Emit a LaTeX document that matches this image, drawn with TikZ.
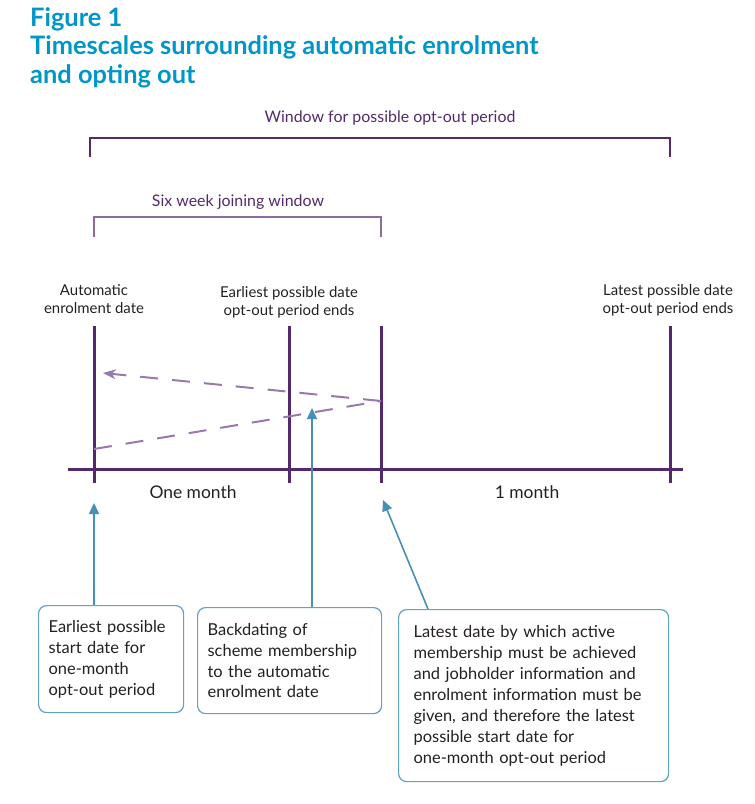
\documentclass[tikz,border=0pt]{standalone}
\usepackage{fontspec}
\setmainfont{Lato}
\usetikzlibrary{calc,arrows.meta}
\definecolor{titleblue}{rgb}{0.0, 0.59, 0.79}
\definecolor{darkpurple}{rgb}{0.33, 0.16, 0.42}
\definecolor{lightpurple}{rgb}{0.55, 0.42, 0.62}
\definecolor{dashpurple}{rgb}{0.6, 0.47, 0.68}
\definecolor{arrowblue}{rgb}{0.27, 0.57, 0.71}
\definecolor{boxblue}{rgb}{0.38, 0.63, 0.76}
\definecolor{ink}{rgb}{0.14, 0.12, 0.13}

\begin{document}
\begin{tikzpicture}[x=1bp,y=-1bp,
  every node/.style={font=\fontsize{15}{18}\selectfont,text=ink,align=center},
  tick/.style={line width=3bp,darkpurple},
  bracket/.style={line width=1.4bp},
  note/.style={draw=boxblue,line width=1.2bp,rounded corners=8bp,align=left,anchor=north west,inner xsep=10bp,font=\fontsize{16.5}{21}\selectfont},
  pointer/.style={arrowblue,line width=1.6bp,-{Triangle[length=11bp,width=10bp]}},
  backdate/.style={dashpurple,line width=2bp,dash pattern=on 18bp off 14bp}]
			\useasboundingbox (0,0) rectangle (755,804);
			\node[anchor=north west,align=left,inner sep=0,text=titleblue,font=\fontsize{25.5}{29}\selectfont\bfseries] (title) at (30,7) {Figure 1\\Timescales surrounding automatic enrolment\\and opting out};
			
			\node[text=darkpurple,font=\fontsize{16}{19}\selectfont] (window) at (390,118) {Window for possible opt-out period};
			\draw[bracket,darkpurple] (90,157) -- (90,138) -- (670,138) -- (670,157);
			\node[text=darkpurple,font=\fontsize{16}{19}\selectfont] (joining) at (238,202) {Six week joining window};
			\draw[bracket,lightpurple] (94,237) -- (94,217) -- (381,217) -- (381,237);
			
			\node (enrol) at (94,299) {Automatic\\enrolment date};
			\node (earliest) at (289,302) {Earliest possible date\\opt-out period ends};
			\node (latest) at (668,300) {Latest possible date\\opt-out period ends};
			
			\foreach \x in {94,289,381,670}
				\draw[tick] (\x,326) -- (\x,483);
			\draw[tick] (68,469) -- (683,469);
			
			\node[font=\fontsize{17.5}{20}\selectfont] (onemonth) at (193,492) {One month};
			\node[font=\fontsize{17.5}{20}\selectfont] (month) at (527,492) {1 month};
			
			\coordinate (B1) at (94,449);
			\coordinate (B2) at (381,401);
			\coordinate (B3) at (103,373);
			\draw[backdate] (B1) -- (B2);
			\draw[backdate,-{Stealth[length=13bp,width=10bp]}] (B2) -- (B3);
			
			\node[note,text width=125bp,minimum height=107bp] (start) at (38,605) {Earliest possible\\start date for\\one-month\\opt-out period};
			\node[note,text width=164bp,minimum height=106bp] (backdating) at (197,607) {Backdating of\\scheme membership\\to the automatic\\enrolment date};
			\node[note,inner xsep=15bp,text width=240bp,minimum height=172bp] (deadline) at (398,609) {Latest date by which active\\membership must be achieved\\and jobholder information and\\enrolment information must be\\given, and therefore the latest\\possible start date for\\one-month opt-out period};
			
			\coordinate (P1) at (94,503);
			\coordinate (P2) at (312,408);
			\coordinate (P3) at (383,500);
			\draw[pointer] (start.north -| P1) -- (P1);
			\draw[pointer] (backdating.north -| P2) -- (P2);
			\draw[pointer] ($(deadline.north west)+(30,0)$) -- (P3);
\end{tikzpicture}
\end{document}
